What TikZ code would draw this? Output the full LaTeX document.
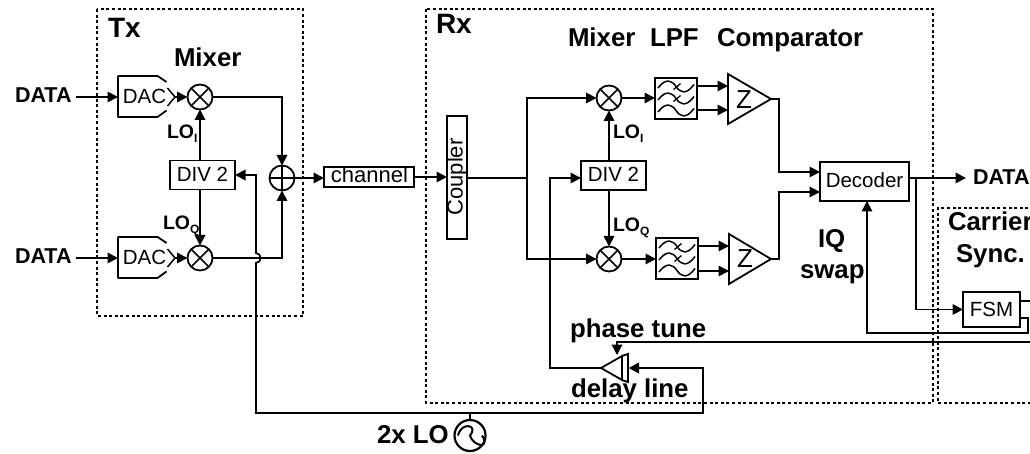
\documentclass[tikz,border=0pt]{standalone}
\usepackage{fontspec}
\setmainfont{Liberation Sans}
\usetikzlibrary{arrows.meta}
\newcommand{\fsz}[1]{\fontsize{#1}{#1}\selectfont}
\newcommand{\lolab}[1]{\fsz{19.5}\bfseries LO\raisebox{-4pt}{\fsz{12}\bfseries #1}}
\tikzset{
  x=1pt,y=-1pt,
  wire/.style={line width=1.8pt},
  arr/.style={wire,-{Triangle[length=10.5pt,width=10.5pt]}},
  dashbox/.style={line width=1.8pt,dash pattern=on 3pt off 2.6pt},
  blk/.style={draw,line width=1.8pt,rectangle,inner sep=0pt,outer sep=0pt},
  mix/.style={draw,line width=1.8pt,circle,inner sep=0pt,outer sep=0pt,minimum size=25pt,
    path picture={\draw[line width=1.5pt] (path picture bounding box.north west)--(path picture bounding box.south east)
      (path picture bounding box.north east)--(path picture bounding box.south west);}},
  summer/.style={draw,line width=1.8pt,circle,inner sep=0pt,outer sep=0pt,minimum size=25pt,
    path picture={\draw[line width=1.5pt] (path picture bounding box.north)--(path picture bounding box.south)
      (path picture bounding box.east)--(path picture bounding box.west);}},
  big/.style={inner sep=0pt,outer sep=0pt,anchor=base west,font=\fsz{25.8}\bfseries},
  huge2/.style={inner sep=0pt,outer sep=0pt,anchor=base west,font=\fsz{28}\bfseries},
  dat/.style={inner sep=0pt,outer sep=0pt,anchor=base west,font=\fsz{21.5}\bfseries},
  reg/.style={inner sep=0pt,outer sep=0pt,anchor=base,font=\fsz{20.5}},
  lo/.style={inner sep=0pt,outer sep=0pt,anchor=base west},
  wavy/.pic={\draw[line width=1.5pt] (-18,1.5) .. controls (-10,-9) and (-4,-6) .. (0,0) .. controls (4,6) and (10,9) .. (18,-2);},
  slash/.pic={\draw[line width=1.3pt] (-2,3) -- (5,-3);},
}
\begin{document}
\begin{tikzpicture}
\useasboundingbox (0,0) rectangle (1030,454);
% dashed frames
\draw[dashbox] (97,9) rectangle (303,316);
\draw[dashbox] (426,9) rectangle (933,403);
\draw[dashbox] (1034,208) -- (938,208) -- (938,403) -- (1034,403);
% titles
\node[huge2] (tTx) at (108,38) {Tx};
\node[big] (tMixA) at (174,66.5) {Mixer};
\node[huge2] (tRx) at (436,34) {Rx};
\node[big] (tMixB) at (568,47) {Mixer};
\node[big] (tLPF) at (650,47) {LPF};
\node[big] (tCmp) at (717,47) {Comparator};
\node[big] (tIQ) at (818,248) {IQ};
\node[big] (tSw) at (800,278) {swap};
\node[big] (tCar) at (948,231) {Carrier};
\node[big] (tSy) at (956,262) {Sync.};
\node[big] (tPh) at (570,337) {phase tune};
\node[big] (tDl) at (571,397) {delay line};
\node[big] (tLO) at (377,443) {2x LO};
% TX
\node[dat] (dA) at (15,103) {DATA};
\node[dat] (dB) at (15,263) {DATA};
\coordinate (dAo) at (76,97);
\coordinate (dBo) at (76,258);
\foreach \n/\y in {A/97,B/258}{
  \coordinate (dac\n w) at (118,\y);
  \draw[wire,line join=round] (166.5,\y-15) -- (157.5,\y-21) -- (118,\y-21) -- (118,\y+20) -- (157.5,\y+20) -- (166.5,\y+13.5);
  \draw[line width=1.5pt] (167.5,\y-9) -- (175,\y) -- (167.5,\y+9);
  \coordinate (dac\n e) at (175,\y);
  \node[reg] (dacT\n) at (144.5,\y+6.5) {DAC};
}
\node[mix] (mA) at (200,97) {};
\node[mix] (mB) at (200,258) {};
\node[blk,minimum width=65pt,minimum height=29pt] (divA) at (202.5,175) {};
\node[reg] (divAt) at (202.5,181.5) {DIV 2};
\node[summer] (sum) at (282,178) {};
\node[lo] (loIa) at (167,139) {\lolab{I}};
\node[lo] (loQa) at (163,230) {\lolab{Q}};
\draw[arr] (dAo) -- (dacAw);
\draw[arr] (dBo) -- (dacBw);
\draw[arr] (dacAe) -- (mA);
\draw[arr] (dacBe) -- (mB);
\draw[arr] (divA.north -| mA) -- (mA);
\draw[arr] (divA.south -| mB) -- (mB);
\draw[arr] (mA) -| (sum);
\draw[arr] (mB) -| (sum);
% channel
\node[blk,minimum width=90pt,minimum height=20pt] (ch) at (369,177) {};
\node[reg,font=\fsz{22}] (chT) at (369.5,183) {channel};
\draw[arr] (sum) -- (ch.west |- sum);
% coupler
\node[blk,minimum width=20pt,minimum height=123pt] (cp) at (457,177.5) {};
\node[inner sep=0pt,font=\fsz{22},rotate=90] (cpT) at (457,177) {Coupler};
\draw[arr] (ch.east) -- (cp.west |- ch.east);
% RX
\node[mix] (mC) at (609,98) {};
\node[mix] (mD) at (609,259) {};
\node[blk,minimum width=65pt,minimum height=29pt] (divB) at (613.5,175.5) {};
\node[reg] (divBt) at (613.5,182) {DIV 2};
\node[lo] (loIb) at (613,139) {\lolab{I}};
\node[lo] (loQb) at (613,232) {\lolab{Q}};
\coordinate (spl) at (527,178);
\draw[wire] (cp.east |- spl) -- (spl);
\draw[arr] (spl) |- (mC);
\draw[arr] (spl) |- (mD);
\draw[arr] (divB.north -| mC) -- (mC);
\draw[arr] (divB.south -| mD) -- (mD);
% filters
\node[blk,minimum width=42pt,minimum height=41pt] (fA) at (676,98.5) {};
\node[blk,minimum width=42pt,minimum height=41pt] (fB) at (677,258.5) {};
\foreach \f in {fA,fB}{
  \pic at ([yshift=-12pt]\f.center) {wavy};
  \pic at (\f.center) {wavy};
  \pic at ([yshift=12pt]\f.center) {wavy};
  \pic at ([shift={(-0.5,-12)}]\f.center) {slash};
  \pic at ([shift={(-0.5,0)}]\f.center) {slash};
}
\draw[arr] (mC) -- (fA.west |- mC);
\draw[arr] (mD) -- (fB.west |- mD);
% comparators
\coordinate (cAt) at (771,99);
\coordinate (cBt) at (771,259);
\draw[wire,line join=miter] (728,74) -- (cAt) -- (728,124) -- cycle;
\draw[wire,line join=miter] (729,234) -- (cBt) -- (729,284) -- cycle;
\node[inner sep=0pt,font=\fsz{26}] (zA) at (744,100) {Z};
\node[inner sep=0pt,font=\fsz{26}] (zB) at (745,259) {Z};
\coordinate (cAa) at (728,86);
\coordinate (cAb) at (728,110);
\coordinate (cBa) at (729,246);
\coordinate (cBb) at (729,271);
\draw[arr] (fA.east |- cAa) -- (cAa);
\draw[arr] (fA.east |- cAb) -- (cAb);
\draw[arr] (fB.east |- cBa) -- (cBa);
\draw[arr] (fB.east |- cBb) -- (cBb);
% decoder
\node[blk,minimum width=89pt,minimum height=39pt] (dec) at (864.5,181.5) {};
\node[reg] (decT) at (864.5,187.5) {Decoder};
\coordinate (decIa) at (820,172);
\coordinate (decIb) at (820,192);
\coordinate (decO) at (909,178);
\coordinate (brk) at (916,178);
\draw[arr] (cAt) -- (779,99) -- (779,172) -- (decIa);
\draw[arr] (cBt) -- (779,259) -- (779,192) -- (decIb);
\node[dat] (dC) at (973,185) {DATA};
\coordinate (dCe) at (966,178);
\draw[arr] (decO) -- (dCe);
% FSM
\node[blk,minimum width=57pt,minimum height=35pt] (fsm) at (991.5,309.5) {};
\node[reg] (fsmT) at (991.5,316.5) {FSM};
\draw[arr] (brk) |- (fsm.west);
\coordinate (fsmA) at (1020,318);
\coordinate (fsmB) at (1020,301);
\coordinate (fsmBe) at (1034,301);
\draw[wire] (fsmB) -- (fsmBe);
\draw[arr] (fsmA) -- (1028,318) -- (1028,333) -- (867,333) -- (dec.south -| 867,333);
% delay line
\coordinate (dlTip) at (601,368);
\draw[wire,line join=miter] (dlTip) -- (622,356) -- (622,380) -- cycle;
\draw[wire] (622,356) -- (628,354) -- (628,382) -- (622,380);
\coordinate (dlE) at (628.5,368);
\coordinate (dlN) at (617,355);
\coordinate (phE) at (1034,342);
\draw[arr] (phE) -- (617,342) -- (dlN);
\coordinate (divBin) at (581,178);
\draw[arr] (dlTip) -- (550,368) -- (550,178) -- (divBin);
% LO source
\node[draw,line width=2.2pt,circle,inner sep=0pt,outer sep=0pt,minimum size=31pt] (src) at (470,435.5) {};
\draw[line width=2pt] ([xshift=-12pt]src.center) .. controls +(3,-14) and +(9,-11) .. (src.center) .. controls +(3,11) and +(9,14) .. ([xshift=12pt]src.center);
\coordinate (busT) at (470,413);
\draw[wire] (src.north) -- (busT);
\draw[arr] (busT) -- (703,413) -- (703,368) -- (dlE);
\draw[arr] (busT) -- (256,413) -- (256,263) .. controls (262,263) and (262,253) .. (256,253) -- (256,175) -- (divA.east);
\end{tikzpicture}
\end{document}
